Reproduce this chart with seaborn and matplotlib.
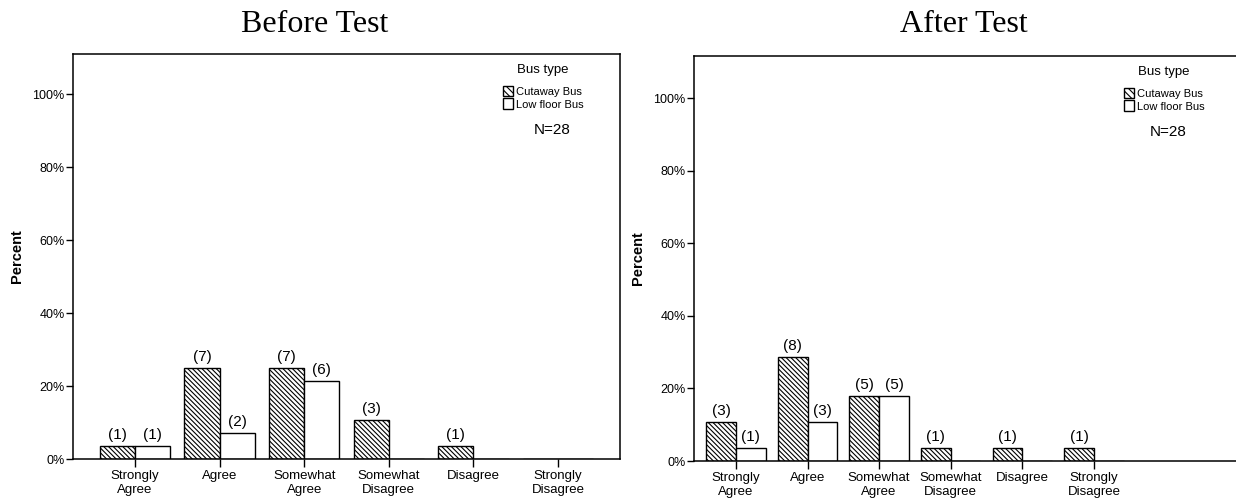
import pandas as pd
import seaborn as sns
import matplotlib.pyplot as plt
from matplotlib.patches import Patch

# responses and counts (N=28 per panel)
categories = ['Strongly\nAgree', 'Agree', 'Somewhat\nAgree', 'Somewhat\nDisagree', 'Disagree', 'Strongly\nDisagree']
bus_types = ['Cutaway Bus', 'Low floor Bus']
n_total = 28

before_cutaway = [1, 7, 7, 3, 1, 0]
before_lowfloor = [1, 2, 6, 0, 0, 0]
after_cutaway = [3, 8, 5, 1, 1, 1]
after_lowfloor = [1, 3, 5, 0, 0, 0]

y_ticks = [0, 20, 40, 60, 80, 100]


def make_df(cutaway, lowfloor):
    rows = []
    for cat, c in zip(categories, cutaway):
        rows.append({'response': cat, 'bus': bus_types[0], 'count': c})
    for cat, c in zip(categories, lowfloor):
        rows.append({'response': cat, 'bus': bus_types[1], 'count': c})
    d = pd.DataFrame(rows)
    d['percent'] = d['count'] / n_total * 100
    return d


sns.set_style('white')
plt.rcParams['font.family'] = ['Liberation Sans', 'DejaVu Sans']
plt.rcParams['hatch.linewidth'] = 0.8
for k in ['text.color', 'axes.labelcolor', 'xtick.color', 'ytick.color']:
    plt.rcParams[k] = 'black'

W, H = 1236, 499
fig = plt.figure(figsize=(W / 100, H / 100), dpi=100)


def px_axes(x0, x1, y_top, y_bot):
    return fig.add_axes([x0 / W, 1 - y_bot / H, (x1 - x0) / W, (y_bot - y_top) / H])


def draw_panel(ax, d, xlim, ylim_top, legend_x, legend_y, n_x, n_y):
    sns.barplot(data=d, x='response', y='percent', hue='bus', order=categories,
                hue_order=bus_types, palette=['white', 'white'], edgecolor='black',
                linewidth=1.0, width=0.83, legend=False, ax=ax)
    for bar in ax.containers[0]:
        bar.set_hatch('\\' * 7)
    for cont, bt in zip(ax.containers, bus_types):
        counts = d[d['bus'] == bt]['count'].tolist()
        ax.bar_label(cont, labels=[f'({c})' if c > 0 else '' for c in counts],
                     padding=3, fontsize=11)
    ax.set_xlim(*xlim)
    ax.set_ylim(0, ylim_top)
    ax.set_yticks(y_ticks)
    ax.set_yticklabels([f'{t}%' for t in y_ticks], fontsize=9)
    ax.tick_params(axis='x', labelsize=9.5, length=6, width=1, direction='out', pad=2)
    ax.tick_params(axis='y', length=5, width=1, direction='out', pad=1)
    ax.tick_params(bottom=True, left=True)
    for s in ax.spines.values():
        s.set_visible(True)
        s.set_color('black')
        s.set_linewidth(1.1)
    ax.set_xlabel('')
    ax.set_ylabel('Percent', fontsize=10.5, fontweight='bold', labelpad=6)

    handles = [Patch(facecolor='white', edgecolor='black', hatch='\\' * 5, label=bus_types[0]),
               Patch(facecolor='white', edgecolor='black', label=bus_types[1])]
    leg = fig.legend(handles=handles, title='Bus type', loc='upper left',
                     bbox_to_anchor=(legend_x / W, 1 - legend_y / H), frameon=False,
                     fontsize=8, title_fontsize=9.5, handlelength=0.9, handleheight=1.1,
                     handletextpad=0.25, labelspacing=0.15, borderpad=0, borderaxespad=0)
    leg._legend_box.align = 'center'
    leg._legend_box.sep = 7
    fig.text(n_x / W, 1 - n_y / H, f'N={n_total}', fontsize=11, ha='center', va='center')


ax1 = px_axes(73, 620, 54, 459)
draw_panel(ax1, make_df(before_cutaway, before_lowfloor), (-0.733, 5.733), 111,
           503, 64, 552, 130)

ax2 = px_axes(694, 1248, 56, 461)
draw_panel(ax2, make_df(after_cutaway, after_lowfloor), (-0.585, 7.15), 111.6,
           1124, 66, 1168, 132)

fig.text(315 / W, 1 - 24 / H, 'Before Test', fontsize=23, family='Liberation Serif',
         ha='center', va='center')
fig.text(964 / W, 1 - 24 / H, 'After Test', fontsize=23, family='Liberation Serif',
         ha='center', va='center')

fig.savefig('out.png', dpi=100)
